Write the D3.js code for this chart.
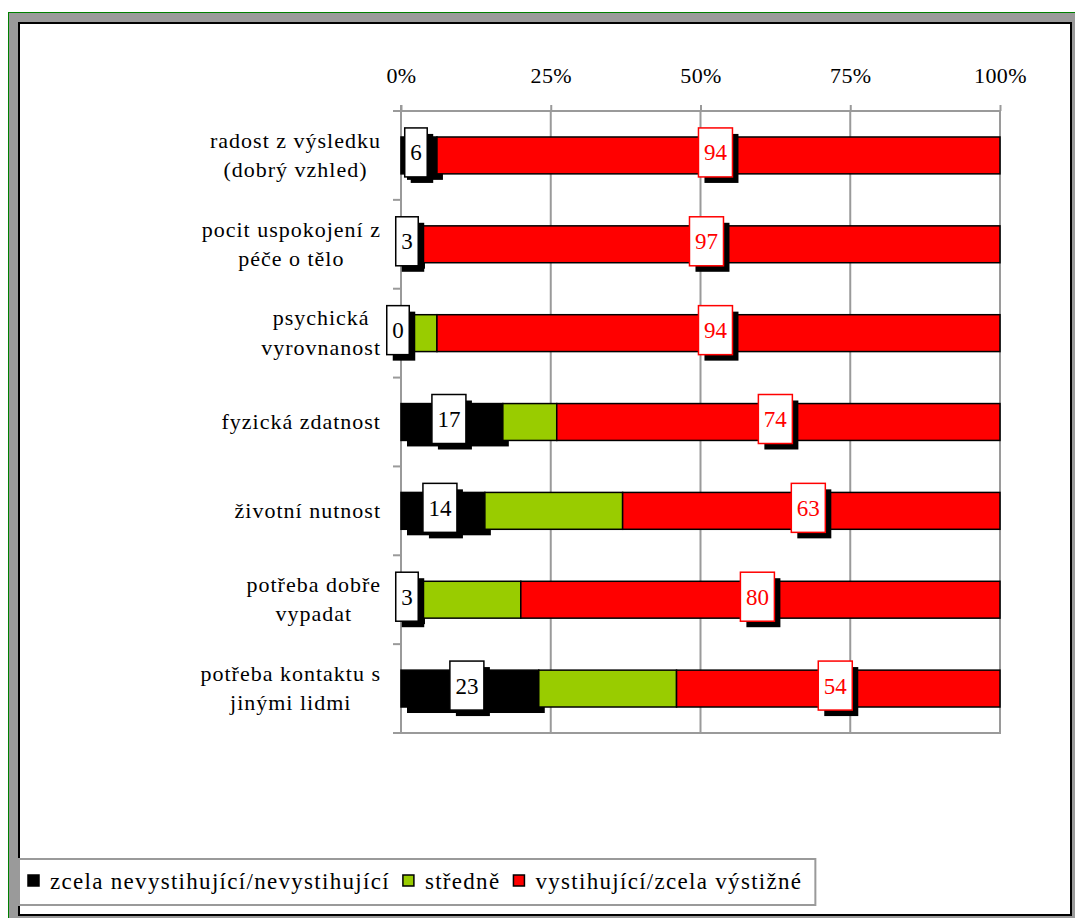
<!DOCTYPE html>
<html>
<head>
<meta charset="utf-8">
<script src="https://cdn.jsdelivr.net/npm/d3@7"></script>
<style>
  html, body { margin: 0; padding: 0; background: #ffffff; }
  svg { display: block; }
</style>
</head>
<body>
<svg id="chart" width="1075" height="918"></svg>
<script>
// Categories (each entry is a list of lines for the wrapped label)
const categories = [
  ["radost z výsledku", "(dobrý vzhled)"],
  ["pocit uspokojení z", "péče o tělo"],
  ["psychická", "vyrovnanost"],
  ["fyzická zdatnost"],
  ["životní nutnost"],
  ["potřeba dobře", "vypadat"],
  ["potřeba kontaktu s", "jinými lidmi"]
];
// Percentages per category
const notFitting = [6, 3, 0, 17, 14, 3, 23];   // zcela nevystihující/nevystihující
const medium     = [0, 0, 6, 9, 23, 17, 23];    // středně
const fitting    = [94, 97, 94, 74, 63, 80, 54]; // vystihující/zcela výstižné
const seriesNames = ["zcela nevystihující/nevystihující", "středně", "vystihující/zcela výstižné"];
const seriesColors = ["#000000", "#99CC00", "#FF0000"];
const tickValues = [0, 25, 50, 75, 100];
const tickLabels = ["0%", "25%", "50%", "75%", "100%"];

const FONT = "'Liberation Serif', 'Times New Roman', 'DejaVu Serif', serif";
const svg = d3.select("#chart").attr("font-family", FONT);

// Frame: outer green line, grey band, inner white chart area with black border
svg.append("rect").attr("x", 8.5).attr("y", 12.5).attr("width", 1100).attr("height", 950)
  .attr("fill", "#9a9a9a").attr("stroke", "#008000").attr("stroke-width", 1);
svg.append("rect").attr("x", 19).attr("y", 23).attr("width", 1052).attr("height", 892)
  .attr("fill", "#ffffff").attr("stroke", "#000000").attr("stroke-width", 2);

const x = d3.scaleLinear().domain([0, 100]).range([401, 1000]);
const keys = categories.map((c, i) => "c" + i);
const pad = 0.585;
const y = d3.scaleBand().domain(keys).range([111, 733]).paddingInner(pad).paddingOuter(pad / 2);
const gridColor = "#9a9a9a";

// Plot area border
svg.append("rect").attr("x", x(0)).attr("y", 111).attr("width", x(100) - x(0)).attr("height", 733 - 111)
  .attr("fill", "none").attr("stroke", gridColor).attr("stroke-width", 2);

// Vertical gridlines
svg.append("g").selectAll("line").data(tickValues).join("line")
  .attr("x1", d => x(d)).attr("x2", d => x(d))
  .attr("y1", 111).attr("y2", 733)
  .attr("stroke", gridColor).attr("stroke-width", 2);

// Top axis with percentage labels
const axisTop = d3.axisTop(x).tickValues(tickValues)
  .tickFormat((d, i) => tickLabels[i]).tickSize(6).tickPadding(22);
const gAx = svg.append("g").attr("transform", "translate(0,111)").call(axisTop)
  .attr("font-family", FONT).attr("font-size", 22);
gAx.select(".domain").attr("stroke", gridColor).attr("stroke-width", 2)
  .attr("d", `M${x(0) - 8},0H${x(100)}`);
gAx.selectAll(".tick line").attr("stroke", gridColor).attr("stroke-width", 2);
gAx.selectAll(".tick text").attr("fill", "#000").style("letter-spacing", "0.4px");

// Left axis line and category boundary ticks
const step = y.step();
const bounds = d3.range(keys.length + 1).map(i => y.range()[0] + i * step);
svg.append("line").attr("x1", x(0)).attr("x2", x(0)).attr("y1", 105).attr("y2", 733)
  .attr("stroke", gridColor).attr("stroke-width", 2);
svg.append("g").selectAll("line").data(bounds).join("line")
  .attr("x1", x(0) - 8).attr("x2", x(0)).attr("y1", d => d).attr("y2", d => d)
  .attr("stroke", gridColor).attr("stroke-width", 2);

// Stacked segments
const rows = keys.map((k, i) => ({ key: k, vals: [notFitting[i], medium[i], fitting[i]] }));
const segs = [];
rows.forEach(r => {
  let acc = 0;
  r.vals.forEach((v, s) => {
    segs.push({ key: r.key, s, v, x0: acc, x1: acc + v });
    acc += v;
  });
});
const shadowOff = 6;

// Shadow under the first series
svg.append("g").selectAll("rect").data(segs.filter(d => d.s === 0 && d.v > 0)).join("rect")
  .attr("x", d => x(d.x0) + shadowOff).attr("y", d => y(d.key) + shadowOff)
  .attr("width", d => x(d.x1) - x(d.x0)).attr("height", y.bandwidth())
  .attr("fill", "#000");

svg.append("g").selectAll("rect").data(segs.filter(d => d.v > 0)).join("rect")
  .attr("x", d => x(d.x0)).attr("y", d => y(d.key))
  .attr("width", d => x(d.x1) - x(d.x0)).attr("height", y.bandwidth())
  .attr("fill", d => seriesColors[d.s]).attr("stroke", "#000").attr("stroke-width", 1.5);

// Value labels in boxes with shadows (first and third series)
const lblSegs = segs.filter(d => d.s !== 1);
const lg = svg.append("g");
lblSegs.forEach(d => {
  const g = lg.append("g");
  const t = g.append("text").text(d.v).attr("font-size", 23)
    .attr("text-anchor", "middle").attr("fill", d.s === 2 ? "#FF0000" : "#000");
  const w = t.node().getComputedTextLength() + 11;
  const h = 49;
  const cx = (x(d.x0) + x(d.x1)) / 2 - 3;
  const cy = y(d.key) + y.bandwidth() / 2 - 3;
  g.insert("rect", "text").attr("x", cx - w / 2 + 6).attr("y", cy - h / 2 + 6)
    .attr("width", w).attr("height", h).attr("fill", "#000");
  g.insert("rect", "text").attr("x", cx - w / 2).attr("y", cy - h / 2)
    .attr("width", w).attr("height", h).attr("fill", "#fff")
    .attr("stroke", d.s === 2 ? "#FF0000" : "#000").attr("stroke-width", 1.5);
  t.attr("x", cx).attr("y", cy + 8);
});

// Category labels: lines centred on each other, block right-aligned
const lineH = 29.5;
categories.forEach((lines, i) => {
  const g = svg.append("g");
  const texts = lines.map(l => g.append("text").text(l).attr("font-size", 22)
    .style("letter-spacing", "1px").attr("text-anchor", "middle"));
  const maxW = d3.max(texts, t => t.node().getBBox().width);
  const cx = 381 - maxW / 2;
  const cy = y(keys[i]) + y.bandwidth() / 2;
  texts.forEach((t, j) => {
    t.attr("x", cx).attr("y", cy + (j - (lines.length - 1) / 2) * lineH + 7);
  });
});

// Legend
const legend = svg.append("g");
const legendBox = legend.append("rect").attr("x", 19).attr("y", 859).attr("height", 46)
  .attr("fill", "#fff").attr("stroke", gridColor).attr("stroke-width", 2);
let lx = 28;
seriesNames.forEach((name, i) => {
  legend.append("rect").attr("x", lx).attr("y", 875).attr("width", 11).attr("height", 11)
    .attr("fill", seriesColors[i]).attr("stroke", "#000").attr("stroke-width", 1.5);
  const t = legend.append("text").text(name).attr("x", lx + 22).attr("y", 889)
    .attr("font-size", 23).style("letter-spacing", "1.3px");
  lx += 22 + t.node().getBBox().width + 13;
});
legendBox.attr("width", lx - 19);
</script>
</body>
</html>
